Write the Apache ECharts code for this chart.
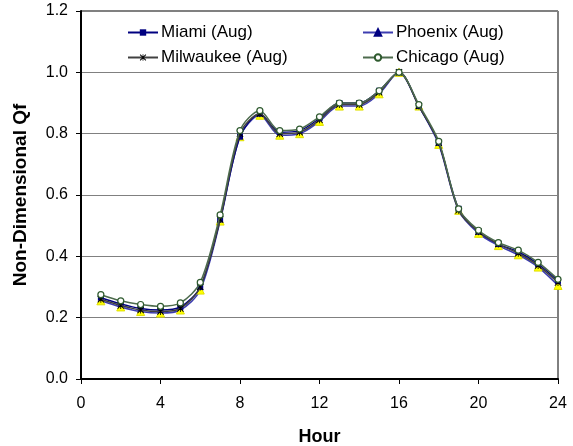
<!DOCTYPE html>
<html>
<head>
<meta charset="utf-8">
<script src="https://cdn.jsdelivr.net/npm/echarts@6/dist/echarts.min.js"></script>
<style>
  html, body { margin: 0; padding: 0; background: #fff; }
  #chart { width: 573px; height: 446px; }
</style>
</head>
<body>
<div id="chart"></div>
<script>
const hours = [1, 2, 3, 4, 5, 6, 7, 8, 9, 10, 11, 12, 13, 14, 15, 16, 17, 18, 19, 20, 21, 22, 23, 24];

const miami = [0.265, 0.245, 0.23, 0.225, 0.235, 0.30, 0.52, 0.79, 0.865, 0.805, 0.81, 0.85,
    0.90, 0.90, 0.94, 1.0, 0.89, 0.77, 0.555, 0.48, 0.44, 0.415, 0.375, 0.32];
const phoenix = [0.255, 0.235, 0.22, 0.215, 0.225, 0.29, 0.515, 0.79, 0.86, 0.795, 0.80, 0.84,
    0.89, 0.89, 0.93, 1.0, 0.89, 0.765, 0.55, 0.475, 0.435, 0.405, 0.365, 0.305];
const milwaukee = [0.26, 0.24, 0.225, 0.22, 0.23, 0.30, 0.52, 0.80, 0.865, 0.80, 0.805, 0.845,
    0.895, 0.895, 0.935, 1.0, 0.89, 0.77, 0.55, 0.48, 0.44, 0.41, 0.37, 0.315];
const chicago = [0.275, 0.255, 0.243, 0.237, 0.248, 0.315, 0.535, 0.81, 0.875, 0.81, 0.815, 0.855,
    0.90, 0.90, 0.94, 1.0, 0.895, 0.775, 0.555, 0.485, 0.445, 0.42, 0.38, 0.325];

const names = ['Miami (Aug)', 'Phoenix (Aug)', 'Milwaukee (Aug)', 'Chicago (Aug)'];

// asterisk marker, made of filled bars
const star = 'path://M0,1 L1,0 L10,9 L9,10 Z M9,0 L10,1 L1,10 L0,9 Z M4.4,0 H5.6 V10 H4.4 Z';

const font = 'Liberation Sans, Arial, sans-serif';

function pairs(vals) {
    return hours.map((h, i) => [h, vals[i]]);
}

function lineSeries(name, vals, lineColor, symbol, size, itemStyle, z) {
    return {
        name: name,
        type: 'line',
        smooth: 0.3,
        data: pairs(vals),
        symbol: symbol,
        symbolSize: size,
        showAllSymbol: true,
        lineStyle: { color: lineColor, width: 1.5 },
        itemStyle: itemStyle,
        z: z,
        animation: false
    };
}

function legendBox(left, items) {
    return {
        left: left,
        top: 24,
        padding: 0,
        orient: 'vertical',
        itemGap: 8,
        itemWidth: 30,
        itemHeight: 8,
        textStyle: { fontSize: 17, color: '#000', fontFamily: font, padding: [0, 0, 0, -2] },
        data: items
    };
}

const chart = echarts.init(document.getElementById('chart'), null, { renderer: 'canvas' });

chart.setOption({
    animation: false,
    textStyle: { fontFamily: font },
    grid: {
        left: 81, right: 15, top: 11, bottom: 67,
        outerBoundsMode: 'none',
        show: true, borderColor: '#000', borderWidth: 1
    },
    legend: [
        legendBox(127, [{ name: names[0] }, { name: names[2] }]),
        legendBox(362, [
            { name: names[1], itemStyle: { color: '#000080', borderColor: '#000080' } },
            { name: names[3] }
        ])
    ],
    xAxis: {
        type: 'value',
        min: 0,
        max: 24,
        interval: 4,
        name: 'Hour',
        nameLocation: 'middle',
        nameGap: 49,
        nameTextStyle: { fontSize: 18, fontWeight: 'bold', color: '#000', fontFamily: font },
        axisLine: { show: true, lineStyle: { color: '#000', width: 2 } },
        axisTick: { show: true, length: 5, lineStyle: { color: '#000' } },
        axisLabel: { fontSize: 16, color: '#000', margin: 17, fontFamily: font },
        splitLine: { show: false }
    },
    yAxis: {
        type: 'value',
        min: 0,
        max: 1.2,
        interval: 0.2,
        name: 'Non-Dimensional Qf',
        nameLocation: 'middle',
        nameGap: 51,
        nameTextStyle: { fontSize: 19, fontWeight: 'bold', color: '#000', fontFamily: font },
        axisLine: { show: true, lineStyle: { color: '#000', width: 2 } },
        axisTick: { show: true, length: 5, lineStyle: { color: '#000' } },
        axisLabel: { fontSize: 16, color: '#000', margin: 13, fontFamily: font, formatter: v => v.toFixed(1) },
        splitLine: { show: true, lineStyle: { color: '#808080', width: 1 } }
    },
    series: [
        lineSeries(names[1], phoenix, '#3d3db0', 'triangle', 8,
            { color: '#ffff00', borderColor: '#e0e000', borderWidth: 1 }, 2),
        lineSeries(names[0], miami, '#000080', 'rect', 6,
            { color: '#000080' }, 3),
        lineSeries(names[2], milwaukee, '#404040', star, 7,
            { color: '#000' }, 4),
        lineSeries(names[3], chicago, '#4d6b4d', 'circle', 6,
            { color: '#fff', borderColor: '#2e5a2e', borderWidth: 1.2 }, 5)
    ]
});
</script>
</body>
</html>
